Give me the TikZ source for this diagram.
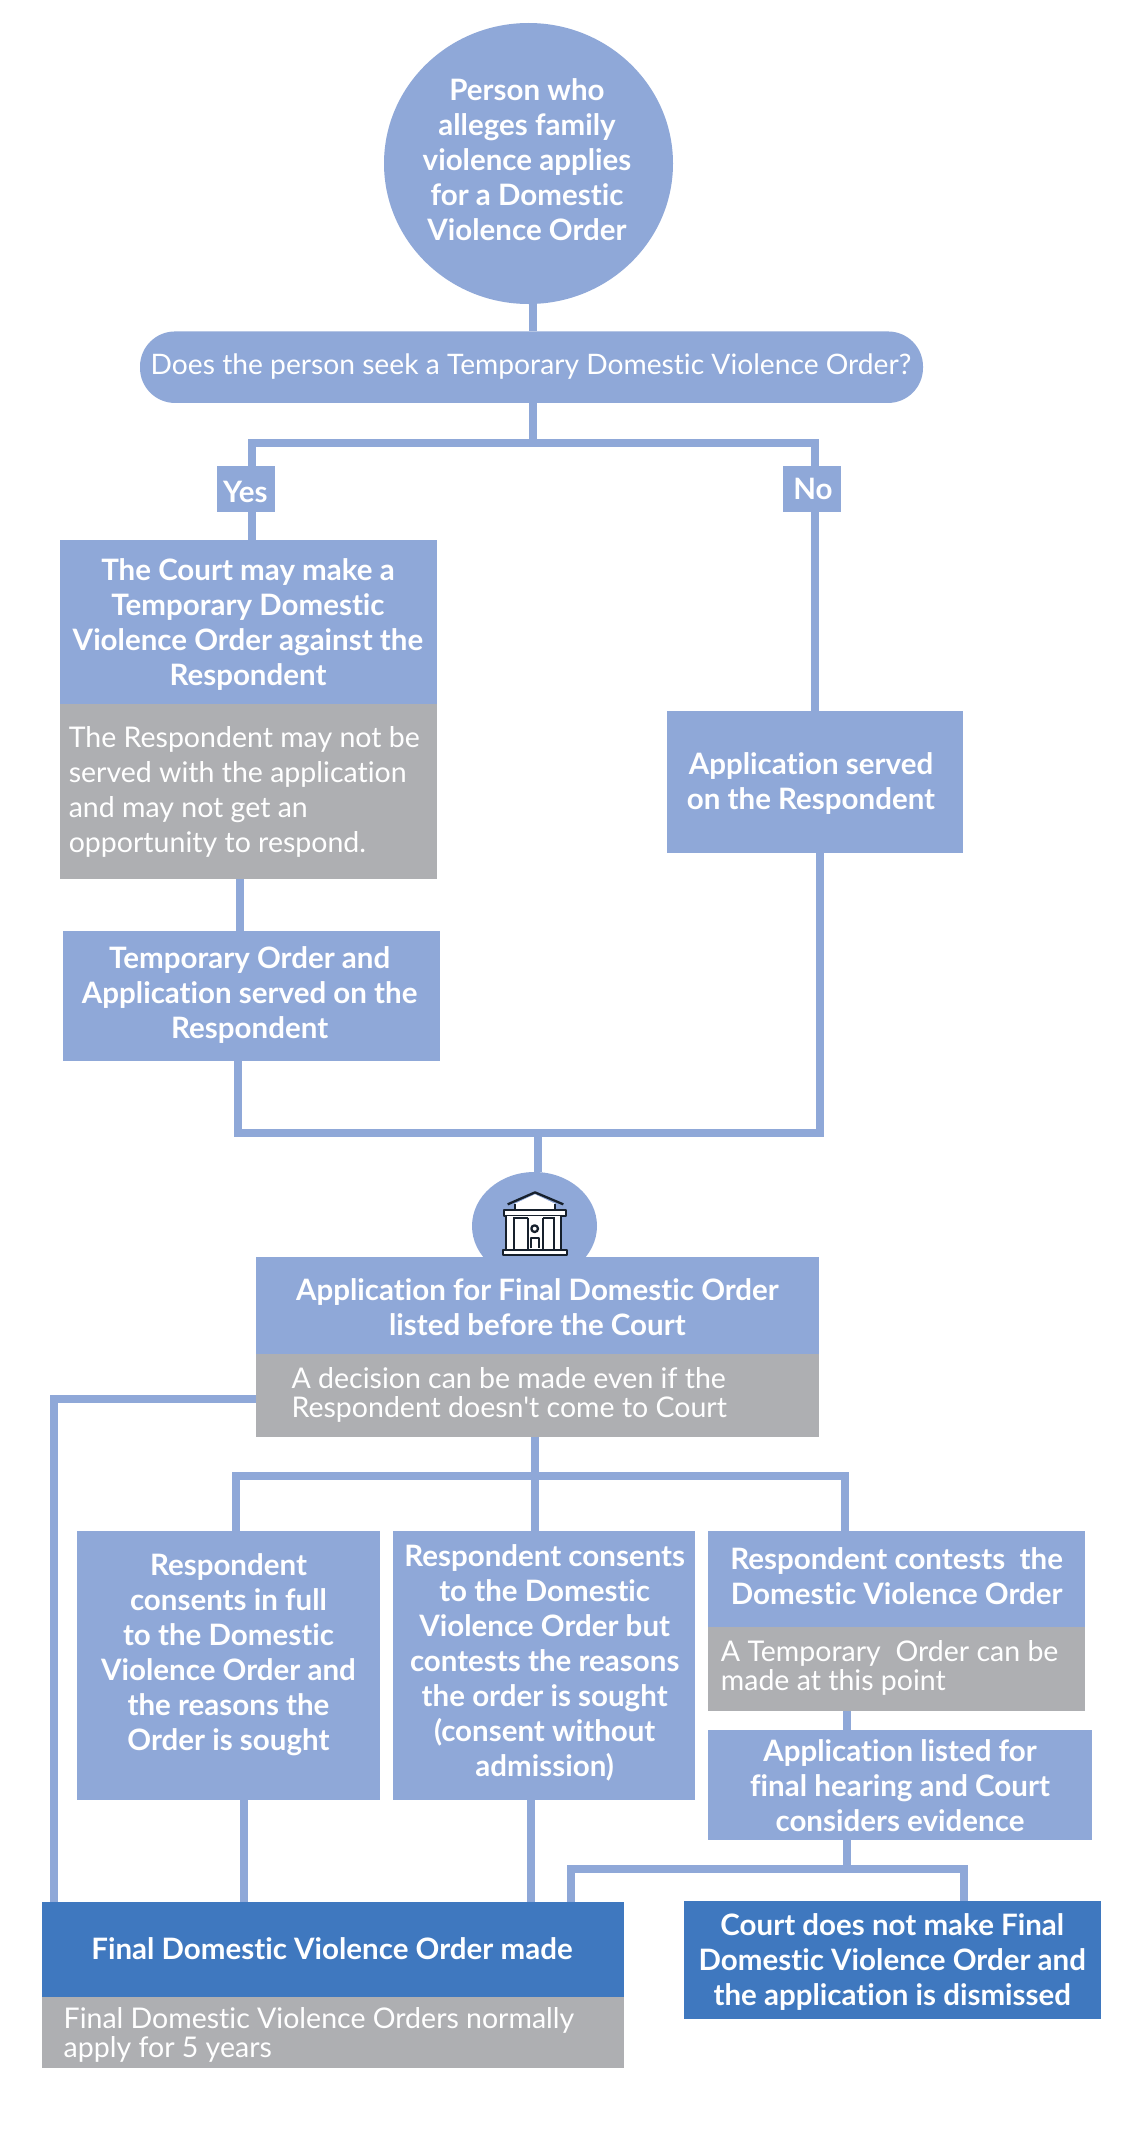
\documentclass[tikz,border=0pt]{standalone}
\usepackage{fontspec}
\usetikzlibrary{shapes.geometric}
\setmainfont{Lato}[Ligatures={TeXOff,NoCommon}]
\definecolor{lite}{HTML}{8FA8D8}
\definecolor{deep}{HTML}{3F78BF}
\definecolor{greyb}{HTML}{AEAFB2}
\definecolor{inkd}{HTML}{16202C}
\tikzset{
  x=1pt,y=-1pt,
  shapebox/.style={rectangle,draw=none,inner sep=0pt,outer sep=0pt},
  conn/.style={draw=lite,line width=8pt,line cap=butt,line join=miter},
  headtxt/.style={text=white,align=center,inner sep=0pt,yshift=-1.5pt,font=\fontsize{29.5}{35}\selectfont\bfseries},
  bodytxt/.style={text=white,align=left,anchor=west,inner sep=0pt,yshift=-2pt,font=\fontsize{28.5}{35}\selectfont},
  tighttxt/.style={text=white,align=left,anchor=west,inner sep=0pt,yshift=-1.5pt,font=\fontsize{28.5}{29}\selectfont},
}
\newcommand{\bx}[6]{\node[shapebox,fill=#6,minimum width={(#4-#2)*1pt},minimum height={(#5-#3)*1pt}] (#1) at ({(#2+#4)/2},{(#3+#5)/2}) {};}
\begin{document}
\begin{tikzpicture}
\useasboundingbox (0,0) rectangle (1145,2141);
\fill[white] (0,0) rectangle (1145,2141);
% shapes
\node[ellipse,fill=lite,inner sep=0pt,outer sep=0pt,minimum width=289pt,minimum height=281pt] (circ) at (528.5,163.5) {};
\node[shapebox,rounded corners=35pt,fill=lite,minimum width=783pt,minimum height=71.5pt] (pill) at (531.5,367.2) {};
\bx{yes}{217}{465.6}{275}{511.5}{lite}
\bx{no}{783}{465.6}{841}{511.5}{lite}
\bx{court}{60}{539.5}{437}{704}{lite}
\bx{courtg}{60}{704}{437}{879}{greyb}
\bx{temp}{63}{931.4}{440}{1060.5}{lite}
\bx{served}{667}{711}{963}{853}{lite}
\node[ellipse,fill=lite,inner sep=0pt,outer sep=0pt,minimum width=125pt,minimum height=108pt] (dome) at (534.5,1226) {};
\bx{listed}{256}{1257}{819}{1353.5}{lite}
\bx{listedg}{256}{1353.5}{819}{1436.5}{greyb}
\bx{full}{77.4}{1530.7}{380.4}{1800}{lite}
\bx{noadm}{393}{1530.7}{695}{1800}{lite}
\bx{contest}{707.5}{1530.7}{1085}{1627}{lite}
\bx{contestg}{707.5}{1627}{1085}{1710.7}{greyb}
\bx{hearing}{708}{1729.5}{1091.6}{1839.7}{lite}
\bx{final}{41.6}{1902}{624}{1997}{deep}
\bx{finalg}{41.6}{1997}{624}{2068.4}{greyb}
\bx{dismiss}{683.5}{1901}{1100.5}{2019}{deep}
% junctions
\coordinate (j1) at (533,443);
\coordinate (j2) at (537.5,1132.5);
\coordinate (j3) at (535,1475.5);
\coordinate (j4) at (847,1868.5);
% connectors
\draw[conn] (circ.south -| 533,0) -- (pill.north -| 533,0);
\draw[conn] (pill.south -| 533,0) -- (j1);
\draw[conn,line width=7.5pt] (yes.north -| 251.8,0) |- (j1);
\draw[conn,line width=7.5pt] (no.north -| 814.8,0) |- (j1);
\draw[conn] (yes.south -| 251.8,0) -- (court.north -| 251.8,0);
\draw[conn] (no.south -| 814.8,0) -- (served.north -| 814.8,0);
\draw[conn] (courtg.south -| 240.3,0) -- (temp.north -| 240.3,0);
\draw[conn] (temp.south -| 238,0) |- (j2);
\draw[conn] (served.south -| 820.3,0) |- (j2);
\draw[conn] (j2) -- (dome.north -| j2);
\draw[conn] (0,1399 -| listedg.west) -- (54.2,1399) -- (final.north -| 54.2,0);
\draw[conn] (listedg.south -| j3) -- (j3);
\draw[conn] (full.north -| 235.5,0) |- (j3);
\draw[conn] (contest.north -| 844.5,0) |- (j3);
\draw[conn] (noadm.north -| j3) -- (j3);
\draw[conn] (full.south -| 243.5,0) -- (final.north -| 243.5,0);
\draw[conn] (noadm.south -| 531,0) -- (final.north -| 531,0);
\draw[conn] (contestg.south -| j4) -- (hearing.north -| j4);
\draw[conn] (hearing.south -| j4) -- (j4);
\draw[conn] (final.north -| 571.3,0) |- (j4);
\draw[conn] (dismiss.north -| 964,0) |- (j4);
% texts
\node[headtxt,yshift=1.5pt] (tcirc) at (527,160) {Person who\\alleges family\\violence applies\\for a Domestic\\Violence Order};
\node[text=white,inner sep=0pt,yshift=-1pt,font=\fontsize{28.2}{35}\selectfont] (tpill) at (531,366) {Does the person seek a Temporary Domestic Violence Order?};
\node[headtxt] (tyes) at (245.4,490.4) {Yes};
\node[headtxt] (tno) at (813,487.7) {No};
\node[headtxt] (tcourt) at (248,623) {The Court may make a\\Temporary Domestic\\Violence Order against the\\Respondent};
\node[bodytxt] (tcourtg) at (68.6,790) {The Respondent may not be\\served with the application\\and may not get an\\opportunity to respond.};
\node[headtxt] (ttemp) at (249.7,993.4) {Temporary Order and\\Application served on the\\Respondent};
\node[headtxt] (tserved) at (811,782) {Application served\\on the Respondent};
\node[headtxt] (tlisted) at (537.4,1306) {Application for Final Domestic Order\\listed before the Court};
\node[tighttxt] (tlistedg) at (291.4,1393) {A decision can be made even if the\\Respondent doesn't come to Court};
\node[headtxt] (tfull) at (228.5,1653) {Respondent\\consents in full\\to the Domestic\\Violence Order and\\the reasons the\\Order is sought};
\node[headtxt] (tnoadm) at (544.7,1661.5) {Respondent consents\\to the Domestic\\Violence Order but\\contests the reasons\\the order is sought\\(consent without\\admission)};
\node[headtxt,yshift=1.5pt] (tcontest) at (896.7,1576) {Respondent contests\ \ the\\Domestic Violence Order};
\node[tighttxt,yshift=1.5pt] (tcontestg) at (720.7,1668.4) {A Temporary\ \ Order can be\\made at this point};
\node[headtxt,yshift=1.5pt] (thearing) at (900,1785.5) {Application listed for\\final hearing and Court\\considers evidence};
\node[headtxt] (tfinal) at (332,1947) {Final Domestic Violence Order made};
\node[tighttxt] (tfinalg) at (63.5,2033.5) {Final Domestic Violence Orders normally\\apply for 5 years};
\node[headtxt] (tdismiss) at (892.3,1960.5) {Court does not make Final\\Domestic Violence Order and\\the application is dismissed};
% court-house icon
\begin{scope}[shift={(495,1185)},x=0.3333pt,y=-0.3333pt,draw=inkd,line width=2.3pt,line join=round,fill=white]
\fill (60,74) -- (60,56) -- (120,28) -- (180,56) -- (180,74) -- cycle;
\draw (38,58) -- (120,22) -- (205,58);
\draw (60,58) -- (60,72);
\draw (180,58) -- (180,72);
\filldraw (28,74) rectangle (212,92);
\fill (34,92) rectangle (200,192);
\draw (34,92) -- (34,192);
\draw (58,96) -- (58,192);
\draw (98,100) -- (98,192);
\draw (144,100) -- (144,192);
\draw (178,96) -- (178,192);
\draw (199,92) -- (199,192);
\draw (58,98) -- (98,98);
\draw (144,98) -- (178,98);
\filldraw (119,131) circle (10);
\filldraw (107,190) -- (107,160) -- (133,160) -- (133,190);
\filldraw (25,194) rectangle (215,210);
\end{scope}
\end{tikzpicture}
\end{document}
